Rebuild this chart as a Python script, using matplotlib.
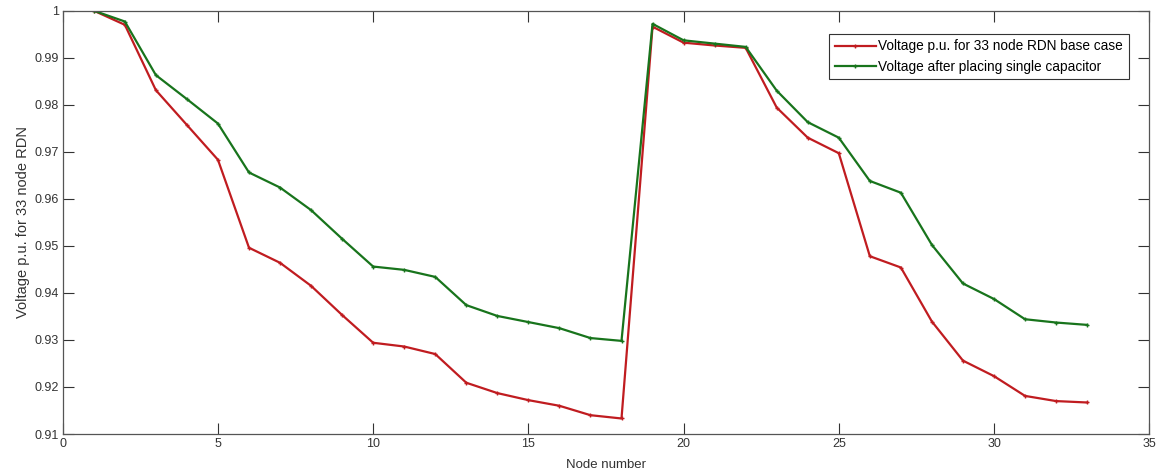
import matplotlib
matplotlib.use("Agg")
import matplotlib.pyplot as plt

# 33节点配电网电压分布
nodes = list(range(1, 34))
v_base = [1.0, 0.9970, 0.9831, 0.9757, 0.9683, 0.9496, 0.9464, 0.9415, 0.9353, 0.9294,
          0.9286, 0.9270, 0.9209, 0.9187, 0.9172, 0.9160, 0.9140, 0.9133, 0.9966, 0.9932,
          0.9926, 0.9921, 0.9794, 0.9730, 0.9697, 0.9478, 0.9454, 0.9339, 0.9256, 0.9223,
          0.9181, 0.9170, 0.9167]
v_cap = [1.0, 0.9977, 0.9863, 0.9812, 0.9760, 0.9656, 0.9624, 0.9576, 0.9515, 0.9456,
         0.9449, 0.9434, 0.9374, 0.9351, 0.9338, 0.9325, 0.9304, 0.9298, 0.9972, 0.9937,
         0.9930, 0.9923, 0.9830, 0.9763, 0.9730, 0.9638, 0.9613, 0.9502, 0.9420, 0.9387,
         0.9344, 0.9337, 0.9332]
labels = ["Voltage p.u. for 33 node RDN base case",
          "Voltage after placing single capacitor"]

plt.rcParams['font.family'] = ['Liberation Sans', 'DejaVu Sans']
plt.rcParams['font.size'] = 9

fig = plt.figure(figsize=(11.62, 4.75), dpi=100)
ax = fig.add_axes([0.054, 0.0863, 0.935, 0.8912])

ax.plot(nodes, v_base, color='#c01c20', lw=1.6, marker='+', ms=3.5, mew=1, label=labels[0])
ax.plot(nodes, v_cap, color='#18741c', lw=1.6, marker='+', ms=3.5, mew=1, label=labels[1])

ax.set_xlim(0, 35)
ax.set_ylim(0.91, 1.0)
ax.set_xticks(range(0, 36, 5))
ax.set_yticks([0.91, 0.92, 0.93, 0.94, 0.95, 0.96, 0.97, 0.98, 0.99, 1.0])
ax.set_yticklabels(['0.91', '0.92', '0.93', '0.94', '0.95', '0.96', '0.97', '0.98', '0.99', '1'])
ax.tick_params(direction='in', top=True, right=True, length=8, width=0.8,
               labelsize=9, colors='#333333', pad=3)
for s in ax.spines.values():
    s.set_color('#555555')
    s.set_linewidth(0.9)

ax.set_xlabel("Node number", fontsize=9.5, color='#333333', labelpad=6)
ax.set_ylabel("Voltage p.u. for 33 node RDN", fontsize=10.5, color='#333333', labelpad=3)

leg = ax.legend(loc='upper right', bbox_to_anchor=(0.981, 0.945), fontsize=9.8,
                fancybox=False, framealpha=1, edgecolor='#333333', handlelength=3.0,
                borderpad=0.4, labelspacing=0.45, handletextpad=0.2, borderaxespad=0)
leg.get_frame().set_linewidth(0.8)

fig.savefig("out.png", dpi=100)
